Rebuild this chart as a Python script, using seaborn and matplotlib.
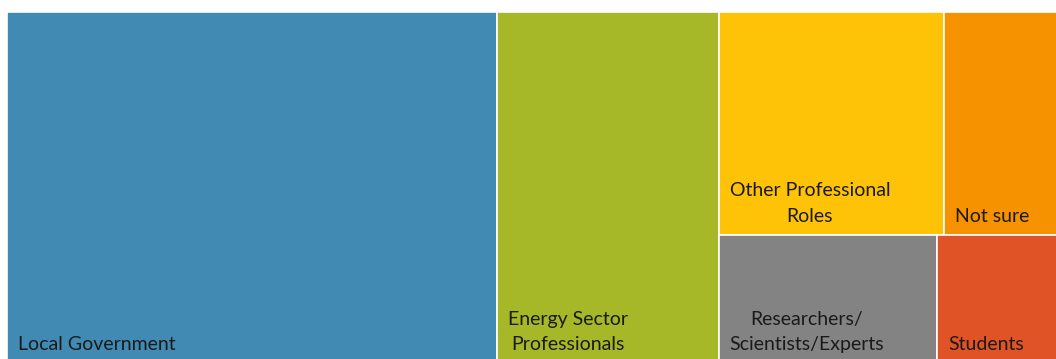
import matplotlib
matplotlib.use("Agg")
import matplotlib.pyplot as plt
import seaborn as sns
from matplotlib.patches import Rectangle

# Respondent groups and their share of all responses (%)
groups = [
    "Local Government",
    "Energy Sector\nProfessionals",
    "Other Professional\nRoles",
    "Not sure",
    "Researchers/\nScientists/Experts",
    "Students",
]
shares = [46.6, 21.1, 13.6, 6.9, 7.6, 4.2]
colors = ["#418AB3", "#A6B727", "#FEC306", "#F69200", "#838383", "#DF5327"]


def worst_ratio(row, side):
    s = sum(row)
    return max(max(side * side * r / (s * s), s * s / (side * side * r)) for r in row)


def place_row(row, x, y, w, h):
    """Lay a row of areas along the shorter side; return rects and the leftover box."""
    s = sum(row)
    rects = []
    if w >= h:
        cw = s / h
        yy = y
        for a in row:
            rh = a / cw
            rects.append((x, yy, cw, rh))
            yy += rh
        return rects, (x + cw, y, w - cw, h)
    rh = s / w
    xx = x
    for a in row:
        rw = a / rh
        rects.append((xx, y, rw, rh))
        xx += rw
    return rects, (x, y + rh, w, h - rh)


def squarify(values, x, y, w, h):
    total = sum(values)
    pending = [v * w * h / total for v in values]
    rects, row = [], []
    while pending:
        side = min(w, h)
        a = pending[0]
        if not row or worst_ratio(row + [a], side) <= worst_ratio(row, side):
            row.append(a)
            pending.pop(0)
        else:
            placed, (x, y, w, h) = place_row(row, x, y, w, h)
            rects += placed
            row = []
    if row:
        placed, _ = place_row(row, x, y, w, h)
        rects += placed
    return rects


sns.set_theme(style="white")
plt.rcParams["font.family"] = ["Lato", "DejaVu Sans"]

fig_w, fig_h = 1056, 359
fig = plt.figure(figsize=(fig_w / 100, fig_h / 100), dpi=100)
pos = [7.3 / fig_w, -4 / fig_h, 1050.7 / fig_w, 351.5 / fig_h]
ax = fig.add_axes(pos)
W, H = pos[2] * fig_w, pos[3] * fig_h
ax.set_xlim(0, W)
ax.set_ylim(H, 0)
ax.axis("off")

palette = sns.color_palette(colors)
for (rx, ry, rw, rh), label, col in zip(squarify(shares, 0, 0, W, H), groups, palette):
    ax.add_patch(Rectangle((rx, ry), rw, rh, facecolor=col, edgecolor="white", linewidth=1.2))
    ax.annotate(label, xy=(rx, ry + rh), xytext=(11, 10), textcoords="offset pixels",
                ha="left", va="bottom", multialignment="center", linespacing=1.6,
                fontsize=14, color="#1A1A1A", annotation_clip=False)

fig.savefig("out.png", dpi=100)
